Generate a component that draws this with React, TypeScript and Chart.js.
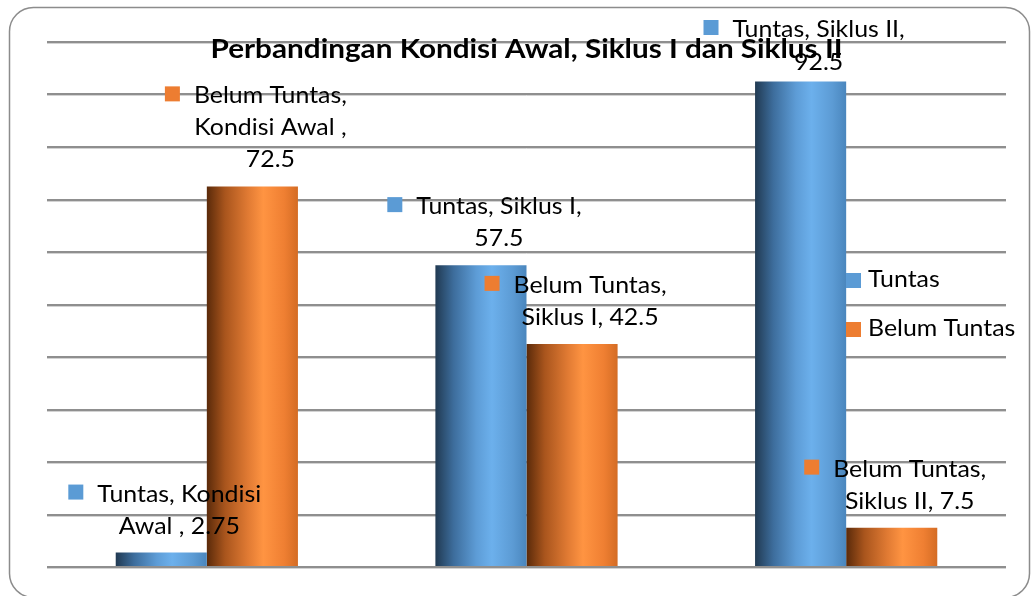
import React, { useEffect, useRef } from "react";
import { Chart, registerables } from "chart.js";

Chart.register(...registerables);

// ---- data ----
const categories = ["Kondisi Awal ", "Siklus I", "Siklus II"];
const seriesNames = ["Tuntas", "Belum Tuntas"];
const tuntasValues = [2.75, 57.5, 92.5];
const belumTuntasValues = [72.5, 42.5, 7.5];
const yMin = 0;
const yMax = 100;
const yStep = 10;
const titleText = "Perbandingan Kondisi Awal, Siklus I dan Siklus II";

// ---- styles ----
const seriesColors = ["#5B9BD5", "#ED7D31"];
const gradientStops = [
  ["#213a52", "#3d6d9c", "#5d9cd6", "#6cb0ec", "#5c9bd4", "#4a86bd"],
  ["#5a2a0a", "#a9551d", "#e07a33", "#ff9442", "#ef7f32", "#d46c24"],
];
const stopPos = [0, 0.2, 0.45, 0.62, 0.85, 1];
const LABEL_FONT = "24px Lato";
const TITLE_FONT = "bold 27px Lato";

function drawScaled(ctx: CanvasRenderingContext2D, text: string, x: number, y: number, sx: number, align: CanvasTextAlign) {
  ctx.save();
  ctx.translate(x, y);
  ctx.scale(sx, 1);
  ctx.textAlign = align;
  ctx.textBaseline = "alphabetic";
  ctx.fillText(text, 0, 0);
  ctx.restore();
}

function wrap(ctx: CanvasRenderingContext2D, text: string, maxW: number, sx: number) {
  const words = text.split(" ");
  const lines: string[] = [];
  let cur = "";
  for (const w of words) {
    const t = cur ? cur + " " + w : w;
    if (cur && ctx.measureText(t).width * sx > maxW) {
      lines.push(cur);
      cur = w;
    } else cur = t;
  }
  if (cur) lines.push(cur);
  return lines;
}

const decorPlugin = {
  id: "decor",
  beforeDraw(chart: any) {
    const ctx = chart.ctx as CanvasRenderingContext2D;
    ctx.save();
    ctx.fillStyle = "#ffffff";
    ctx.fillRect(0, 0, chart.width, chart.height);
    ctx.strokeStyle = "#8c8c8c";
    ctx.lineWidth = 1.5;
    ctx.beginPath();
    (ctx as any).roundRect(9.5, 7.5, 1020, 590, 24);
    ctx.stroke();
    ctx.restore();
  },
  beforeDatasetsDraw(chart: any) {
    const ctx = chart.ctx as CanvasRenderingContext2D;
    const area = chart.chartArea;
    const ys = chart.scales.y;
    ctx.save();
    ctx.strokeStyle = "rgba(200,200,200,0.8)";
    ctx.lineWidth = 1;
    for (let v = yMin; v <= yMax; v += yStep) {
      const y = Math.round(ys.getPixelForValue(v)) + 1.5;
      ctx.beginPath();
      ctx.moveTo(area.left, y);
      ctx.lineTo(area.right, y);
      ctx.stroke();
    }
    ctx.restore();
    chart.data.datasets.forEach((_: any, di: number) => {
      const meta = chart.getDatasetMeta(di);
      meta.data.forEach((el: any) => {
        const g = ctx.createLinearGradient(el.x - el.width / 2, 0, el.x + el.width / 2, 0);
        gradientStops[di].forEach((c, k) => g.addColorStop(stopPos[k], c));
        el.options = { ...el.options, backgroundColor: g };
      });
    });
  },
  afterDatasetsDraw(chart: any) {
    const ctx = chart.ctx as CanvasRenderingContext2D;
    const area = chart.chartArea;
    ctx.save();
    ctx.fillStyle = "#000";
    // title
    ctx.font = TITLE_FONT;
    const tsx = 632 / ctx.measureText(titleText).width;
    drawScaled(ctx, titleText, (area.left + area.right) / 2, area.top + 16, tsx, "center");

    // data labels
    ctx.font = LABEL_FONT;
    const sx = 153 / ctx.measureText("Belum Tuntas,").width;
    const lineH = 32;
    chart.data.datasets.forEach((ds: any, di: number) => {
      const meta = chart.getDatasetMeta(di);
      meta.data.forEach((el: any, i: number) => {
        const text = `${seriesNames[di]}, ${categories[i]}, ${ds.data[i]}`;
        const lines = wrap(ctx, text, 185, sx);
        const cx = el.x + 18;
        let first = el.y - 19 - lineH * (lines.length - 1);
        const clamped = first < area.top - 5;
        if (clamped) first = area.top - 5;
        lines.forEach((ln, k) => {
          ctx.fillStyle = "#000";
          drawScaled(ctx, ln, cx, first + k * (lineH + (clamped ? 1 : 0)), sx, "center");
        });
        const w1 = ctx.measureText(lines[0]).width * sx;
        ctx.fillStyle = seriesColors[di];
        ctx.fillRect(cx - w1 / 2 - 29, first - 17, 15, 15);
      });
    });

    // legend
    const legendX = 846;
    const legendY = [273, 322];
    seriesNames.forEach((n, di) => {
      ctx.fillStyle = seriesColors[di];
      ctx.fillRect(legendX, legendY[di], 15, 15);
      ctx.fillStyle = "#000";
      drawScaled(ctx, n, legendX + 22, legendY[di] + 14, sx, "left");
    });
    ctx.restore();
  },
};

export default function App() {
  const ref = useRef<HTMLCanvasElement | null>(null);
  useEffect(() => {
    if (!ref.current) return;
    const chart = new Chart(ref.current, {
      type: "bar",
      data: {
        labels: categories,
        datasets: [
          { label: seriesNames[0], data: tuntasValues, backgroundColor: seriesColors[0] },
          { label: seriesNames[1], data: belumTuntasValues, backgroundColor: seriesColors[1] },
        ],
      },
      options: {
        responsive: false,
        animation: false,
        devicePixelRatio: 1,
        layout: { padding: { left: 47, right: 27, top: 42, bottom: 29 } },
        datasets: { bar: { categoryPercentage: 0.57, barPercentage: 1 } },
        plugins: { legend: { display: false }, tooltip: { enabled: false }, title: { display: false } },
        scales: {
          x: { display: false },
          y: {
            min: yMin,
            max: yMax,
            ticks: { display: false, stepSize: yStep },
            grid: { color: "#8f8f8f", lineWidth: 2, drawTicks: false },
            border: { display: false },
          },
        },
      },
      plugins: [decorPlugin],
    });
    return () => chart.destroy();
  }, []);
  return (
    <div style={{ position: "fixed", left: 0, top: 0, width: 1033, height: 596, background: "#fff" }}>
      <canvas ref={ref} width={1033} height={596} />
    </div>
  );
}
